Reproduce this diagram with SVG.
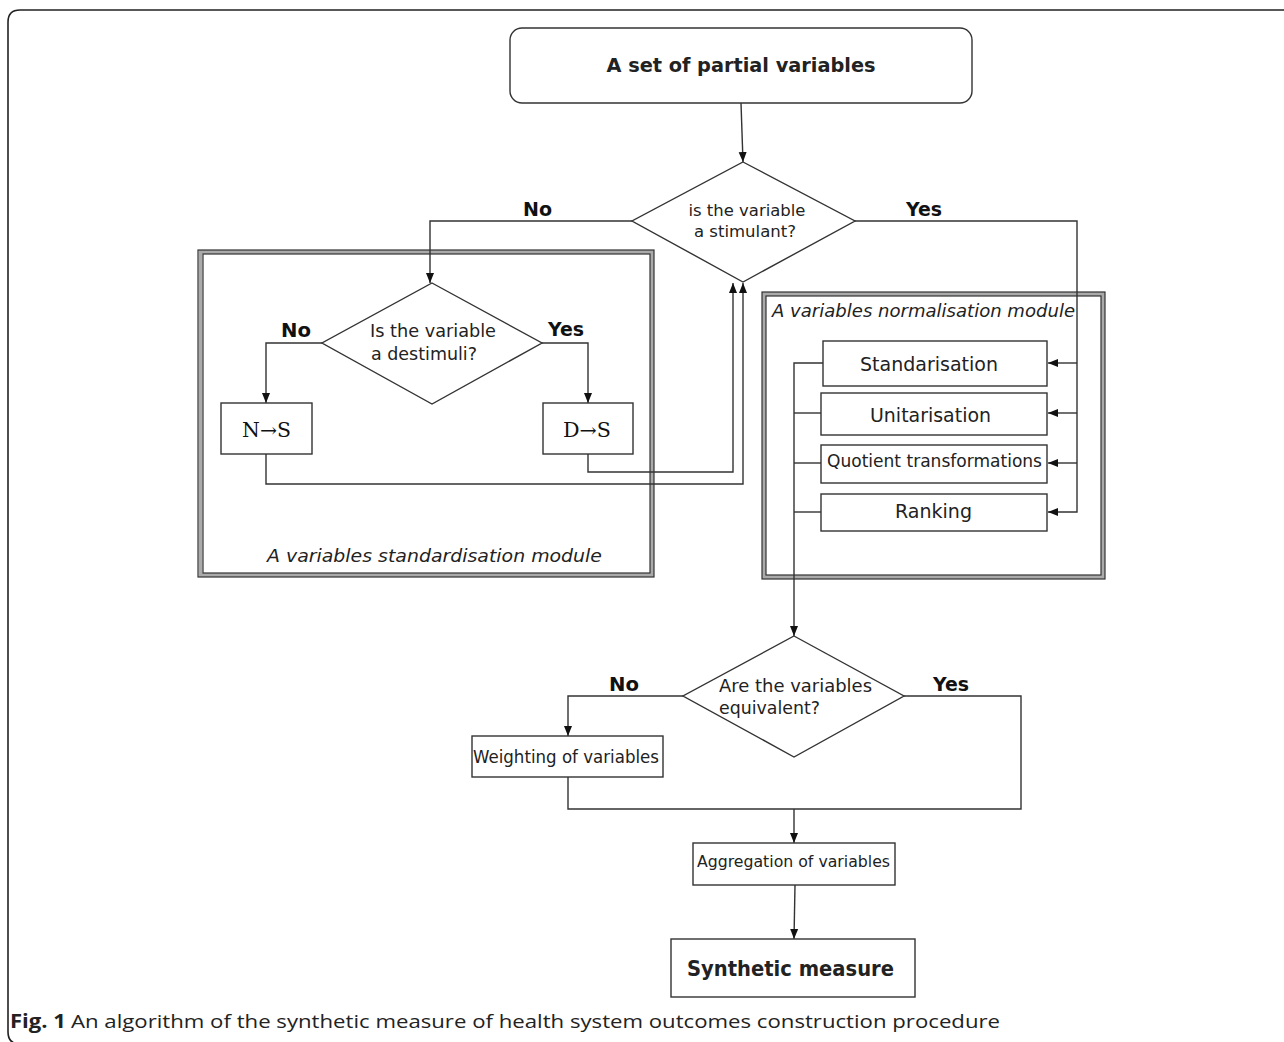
<svg xmlns="http://www.w3.org/2000/svg" width="1284" height="1042" viewBox="0 0 1284 1042">
<style>
.bg{fill:#fff}
.frame{fill:none;stroke:#222;stroke-width:1.6}
.box{fill:#fff;stroke:#333;stroke-width:1.4}
.mod-band{fill:none;stroke:#aaa;stroke-width:4}
.mod-line{fill:none;stroke:#333;stroke-width:1.2}
.conn{fill:none;stroke:#333;stroke-width:1.4}
.t{font-family:"DejaVu Sans",Verdana,sans-serif;fill:#222}
.lbl{font-family:"DejaVu Sans",Verdana,sans-serif;font-weight:bold;font-size:19px;fill:#111}
.it{font-family:"DejaVu Sans",Verdana,sans-serif;font-style:italic;font-size:18px;fill:#222}
.serif{font-family:"DejaVu Serif","Liberation Serif",serif;font-size:20px;fill:#111}
.cap{font-family:"Open Sans","Noto Sans",sans-serif;font-size:19px;fill:#222}
</style>
<defs>
<marker id="ah" viewBox="0 0 10 10" refX="10" refY="5" markerWidth="10" markerHeight="10" markerUnits="userSpaceOnUse" orient="auto">
<path d="M0,1 L10,5 L0,9 Z" fill="#111"/>
</marker>
</defs>
<rect class="bg" x="0" y="0" width="1284" height="1042"/>
<path class="frame" d="M1290,10 H20 Q8,10 8,22 V1032 Q8,1044 20,1044"/>

<g id="module-standardisation">
<rect class="mod-band" x="200.5" y="252" width="451.5" height="323"/>
<rect class="mod-line" x="198" y="250" width="456" height="327"/>
<rect class="mod-line" x="203" y="254" width="447" height="319"/>
<text class="it" x="267" y="562" textLength="335" lengthAdjust="spacingAndGlyphs">A variables standardisation module</text>
</g>

<g id="module-normalisation">
<rect class="mod-band" x="764" y="294" width="339" height="283"/>
<rect class="mod-line" x="762" y="292" width="343" height="287"/>
<rect class="mod-line" x="766" y="296" width="335" height="279"/>
<text class="it" x="772" y="317" textLength="303" lengthAdjust="spacingAndGlyphs">A variables normalisation module</text>
</g>

<g id="connectors">
<line class="conn" x1="741" y1="103" x2="743" y2="162" marker-end="url(#ah)"/>
<polyline class="conn" points="632,221 430,221 430,283" marker-end="url(#ah)"/>
<polyline class="conn" points="855,221 1077,221 1077,512 1048,512" marker-end="url(#ah)"/>
<line class="conn" x1="1077" y1="363" x2="1048" y2="363" marker-end="url(#ah)"/>
<line class="conn" x1="1077" y1="413" x2="1048" y2="413" marker-end="url(#ah)"/>
<line class="conn" x1="1077" y1="463" x2="1048" y2="463" marker-end="url(#ah)"/>
<polyline class="conn" points="322,343 266,343 266,403" marker-end="url(#ah)"/>
<polyline class="conn" points="542,343 588,343 588,403" marker-end="url(#ah)"/>
<polyline class="conn" points="266,454 266,484 743,484 743,283" marker-end="url(#ah)"/>
<polyline class="conn" points="588,454 588,472 733,472 733,283" marker-end="url(#ah)"/>
<polyline class="conn" points="823,363 794,363 794,636" marker-end="url(#ah)"/>
<line class="conn" x1="794" y1="413" x2="821" y2="413"/>
<line class="conn" x1="794" y1="463" x2="821" y2="463"/>
<line class="conn" x1="794" y1="512" x2="821" y2="512"/>
<polyline class="conn" points="683,696 568,696 568,736" marker-end="url(#ah)"/>
<polyline class="conn" points="568,777 568,809 1021,809 1021,696 904,696"/>
<line class="conn" x1="794" y1="809" x2="794" y2="843" marker-end="url(#ah)"/>
<line class="conn" x1="795" y1="885" x2="794" y2="939" marker-end="url(#ah)"/>
</g>

<g id="node-partial-variables">
<rect class="box" x="510" y="28" width="462" height="75" rx="12"/>
<text class="t" x="741" y="72" text-anchor="middle" font-size="20" font-weight="bold" textLength="269" lengthAdjust="spacingAndGlyphs">A set of partial variables</text>
</g>

<g id="node-stimulant">
<polygon class="box" points="743,162 855,221 743,282 632,221"/>
<text class="t" x="747" y="216" text-anchor="middle" font-size="16.5" textLength="117" lengthAdjust="spacingAndGlyphs">is the variable</text>
<text class="t" x="745" y="237" text-anchor="middle" font-size="16.5" textLength="102" lengthAdjust="spacingAndGlyphs">a stimulant?</text>
<text class="lbl" x="523" y="216" textLength="29" lengthAdjust="spacingAndGlyphs">No</text>
<text class="lbl" x="906" y="216" textLength="36" lengthAdjust="spacingAndGlyphs">Yes</text>
</g>

<g id="node-destimuli">
<polygon class="box" points="432,283 542,343 432,404 322,343"/>
<text class="t" x="433" y="337" text-anchor="middle" font-size="17" textLength="126" lengthAdjust="spacingAndGlyphs">Is the variable</text>
<text class="t" x="424" y="360" text-anchor="middle" font-size="17" textLength="106" lengthAdjust="spacingAndGlyphs">a destimuli?</text>
<text class="lbl" x="281" y="337" textLength="30" lengthAdjust="spacingAndGlyphs">No</text>
<text class="lbl" x="548" y="336" textLength="36" lengthAdjust="spacingAndGlyphs">Yes</text>
</g>

<g id="node-ns">
<rect class="box" x="221" y="403" width="91" height="51"/>
<text class="serif" x="266.5" y="437" text-anchor="middle" textLength="49" lengthAdjust="spacingAndGlyphs">N→S</text>
</g>

<g id="node-ds">
<rect class="box" x="543" y="403" width="90" height="51"/>
<text class="serif" x="587" y="437" text-anchor="middle" textLength="48" lengthAdjust="spacingAndGlyphs">D→S</text>
</g>

<g id="node-standarisation">
<rect class="box" x="823" y="341" width="224" height="45"/>
<text class="t" x="929" y="371" text-anchor="middle" font-size="19" textLength="138" lengthAdjust="spacingAndGlyphs">Standarisation</text>
</g>
<g id="node-unitarisation">
<rect class="box" x="821" y="393" width="226" height="42"/>
<text class="t" x="930.5" y="422" text-anchor="middle" font-size="19" textLength="121" lengthAdjust="spacingAndGlyphs">Unitarisation</text>
</g>
<g id="node-quotient">
<rect class="box" x="821" y="445" width="226" height="38"/>
<text class="t" x="934.5" y="467" text-anchor="middle" font-size="17" textLength="215" lengthAdjust="spacingAndGlyphs">Quotient transformations</text>
</g>
<g id="node-ranking">
<rect class="box" x="821" y="494" width="226" height="37"/>
<text class="t" x="933.5" y="518" text-anchor="middle" font-size="19" textLength="77" lengthAdjust="spacingAndGlyphs">Ranking</text>
</g>

<g id="node-equivalent">
<polygon class="box" points="794,636 904,696 794,757 683,696"/>
<text class="t" x="719" y="692" font-size="17" textLength="153" lengthAdjust="spacingAndGlyphs">Are the variables</text>
<text class="t" x="719" y="714" font-size="17" textLength="101" lengthAdjust="spacingAndGlyphs">equivalent?</text>
<text class="lbl" x="609" y="691" textLength="30" lengthAdjust="spacingAndGlyphs">No</text>
<text class="lbl" x="933" y="691" textLength="36" lengthAdjust="spacingAndGlyphs">Yes</text>
</g>

<g id="node-weighting">
<rect class="box" x="472" y="736" width="191" height="41"/>
<text class="t" x="473" y="763" font-size="17" textLength="186" lengthAdjust="spacingAndGlyphs">Weighting of variables</text>
</g>

<g id="node-aggregation">
<rect class="box" x="693" y="843" width="202" height="42"/>
<text class="t" x="697" y="867" font-size="16" textLength="193" lengthAdjust="spacingAndGlyphs">Aggregation of variables</text>
</g>

<g id="node-synthetic">
<rect class="box" x="671" y="939" width="244" height="58"/>
<text class="t" x="790.5" y="976" text-anchor="middle" font-size="21" font-weight="bold" textLength="207" lengthAdjust="spacingAndGlyphs">Synthetic measure</text>
</g>

<g id="caption">
<text class="cap" x="10" y="1028"><tspan font-weight="bold" textLength="56" lengthAdjust="spacingAndGlyphs">Fig. 1</tspan></text>
<text class="cap" x="71" y="1028" textLength="929" lengthAdjust="spacingAndGlyphs">An algorithm of the synthetic measure of health system outcomes construction procedure</text>
</g>
</svg>
